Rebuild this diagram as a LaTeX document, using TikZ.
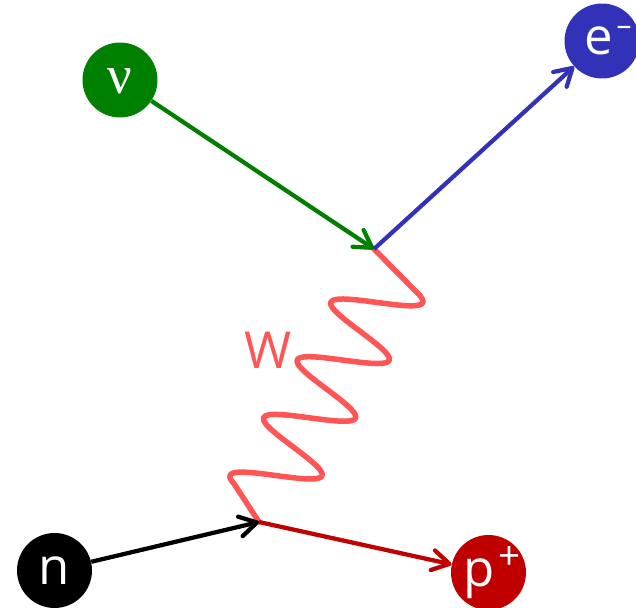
\documentclass[tikz,border=0pt]{standalone}
\usepackage{fontspec}
\setmainfont{Open Sans}
\newfontfamily\greekfont{Liberation Serif}
\usepackage{tikz}
\usetikzlibrary{arrows.meta}
\definecolor{nugreen}{RGB}{0,128,0}
\definecolor{eblue}{RGB}{50,50,185}
\definecolor{pred}{RGB}{192,0,0}
\definecolor{wboson}{RGB}{255,85,85}
\tikzset{
    particle/.style={circle, minimum size=1.5cm, inner sep=0pt, text=white,
        text height=0.56cm, text depth=0pt, font=\fontsize{29}{34}\selectfont},
    fermion/.style={line width=0.085cm, -{Straight Barb[length=0.34cm, width=0.4cm, round]}},
    boson/.style={wboson, line width=0.11cm, line cap=round, line join=round}
}

\begin{document}
\begin{tikzpicture}[x=0.02cm, y=-0.02cm]
        \useasboundingbox (0,0) rectangle (636,608);
        % particles
        \node[particle, fill=nugreen] (nu) at (120,80)
            {\greekfont\fontsize{31}{36}\selectfont ν};
        \node[particle, fill=eblue] (el) at (602,41)
            {\hspace*{7pt}e\kern2pt\raisebox{11pt}{\fontsize{17}{17}\selectfont –}};
        \node[particle, fill=black] (ne) at (54.5,570.5) {n};
        \node[particle, fill=pred] (pr) at (488.5,572.5)
            {\hspace*{4pt}p\kern2pt\raisebox{9.5pt}{\fontsize{22}{22}\selectfont +}};
        % vertices
        \coordinate (top) at (374,249);
        \coordinate (bot) at (259,522);
        % W boson, 4 waves between the vertices
        \draw[boson] (bot) -- plot[domain=10:259, samples=240, smooth]
            ({259.2+0.503*\x-37.35*sin(5.389*\x)},
             {504.4-0.864*\x-14.9*sin(5.389*\x)})
            -- (top);
        \node[text=wboson, font=\fontsize{29}{34}\selectfont] (wlab) at (268,350.5) {W};
        % arrows
        \draw[fermion][nugreen] (nu) -- (top);
        \draw[fermion][eblue] (top) -- (el);
        \draw[fermion][black] (ne) -- (bot);
        \draw[fermion][pred] (bot) -- (pr);
    \end{tikzpicture}
\end{document}
